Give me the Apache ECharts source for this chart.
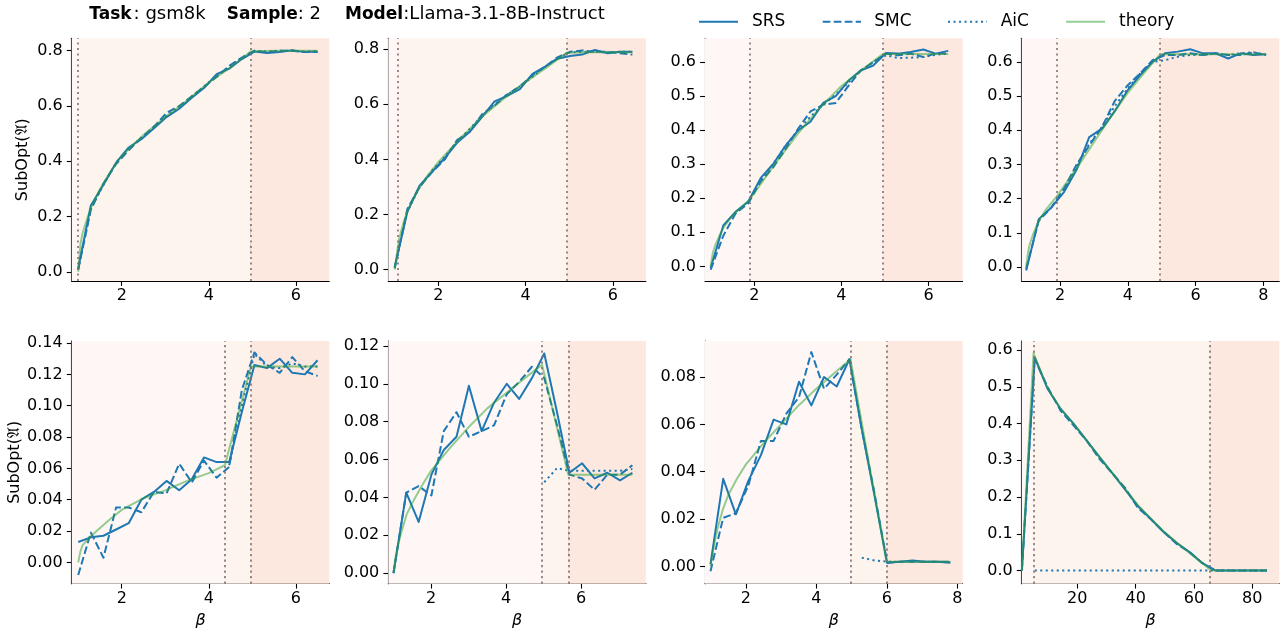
<!DOCTYPE html>
<html>
<head>
<meta charset="utf-8">
<script src="https://cdn.jsdelivr.net/npm/echarts@6/dist/echarts.min.js"></script>
<style>
  html, body { margin: 0; padding: 0; background: #ffffff; }
  #chart { width: 1283px; height: 637px; }
</style>
</head>
<body>
<div id="chart"></div>
<script>
// ---------------- data ----------------
// top row
const p1Beta = [1.00,1.29,1.58,1.87,2.16,2.45,2.74,3.03,3.32,3.61,3.89,4.18,4.47,4.76,5.05,5.34,5.63,5.92,6.21,6.50];
const p1SRS = [0.012,0.24,0.315,0.395,0.45,0.48,0.52,0.56,0.59,0.63,0.665,0.715,0.735,0.77,0.797,0.792,0.795,0.802,0.795,0.797];
const p1SMC = [0.008,0.225,0.32,0.39,0.44,0.485,0.525,0.575,0.60,0.635,0.67,0.705,0.745,0.775,0.80,0.795,0.80,0.80,0.795,0.795];
const p1AiC = [0.01,0.23,0.315,0.395,0.445,0.485,0.525,0.565,0.595,0.635,0.67,0.71,0.74,0.775,0.80,0.797,0.80,0.80,0.797,0.797];
const p1ThBeta = [1.0,1.05,1.1,1.2,1.3,1.5,1.75,2.0,2.5,3.0,3.5,4.0,4.5,4.96,5.5,6.0,6.5];
const p1Theory = [0.0,0.10,0.14,0.19,0.235,0.30,0.365,0.42,0.495,0.56,0.62,0.685,0.74,0.797,0.80,0.80,0.80];
const p1Bounds = [1.0, 4.96];
const p1Stats = ['FPR=1.000', 'TPR=1.000', 'Thr=0.000'];

const p2Beta = [1.00,1.29,1.57,1.86,2.15,2.43,2.72,3.01,3.29,3.58,3.87,4.16,4.44,4.73,5.02,5.30,5.59,5.88,6.16,6.45];
const p2SRS = [0.01,0.21,0.305,0.355,0.405,0.46,0.50,0.555,0.61,0.63,0.655,0.71,0.735,0.765,0.775,0.78,0.797,0.785,0.79,0.79];
const p2SMC = [0.005,0.22,0.30,0.355,0.40,0.47,0.50,0.565,0.595,0.635,0.665,0.705,0.735,0.77,0.79,0.795,0.79,0.79,0.785,0.78];
const p2AiC = [0.01,0.21,0.30,0.36,0.41,0.465,0.51,0.56,0.60,0.635,0.665,0.70,0.735,0.765,0.788,0.79,0.79,0.788,0.79,0.79];
const p2ThBeta = [1.0,1.06,1.1,1.2,1.3,1.5,1.75,2.0,2.5,3.0,3.5,4.0,4.5,4.95,5.5,6.0,6.45];
const p2Theory = [0.0,0.07,0.11,0.17,0.215,0.28,0.34,0.39,0.475,0.555,0.62,0.68,0.735,0.787,0.788,0.788,0.788];
const p2Bounds = [1.06, 4.95];
const p2Stats = ['FPR=0.936', 'TPR=0.995', 'Thr=0.657'];

const p3Beta = [1.00,1.29,1.57,1.86,2.15,2.43,2.72,3.01,3.29,3.58,3.87,4.16,4.44,4.73,5.02,5.30,5.59,5.88,6.16,6.45];
const p3SRS = [-0.005,0.12,0.16,0.19,0.26,0.30,0.355,0.40,0.425,0.48,0.50,0.545,0.575,0.59,0.627,0.625,0.63,0.637,0.625,0.633];
const p3SMC = [-0.01,0.09,0.155,0.185,0.25,0.29,0.345,0.405,0.455,0.475,0.48,0.53,0.575,0.60,0.625,0.62,0.625,0.615,0.625,0.625];
const p3AiC = [null,null,null,null,0.255,0.30,0.355,0.40,0.44,0.475,0.505,0.54,0.575,0.60,0.62,0.612,0.613,0.615,0.622,0.625];
const p3ThBeta = [1.0,1.05,1.1,1.2,1.3,1.5,1.885,2.0,2.5,3.0,3.5,4.0,4.5,4.95,5.5,6.0,6.45];
const p3Theory = [0.0,0.04,0.06,0.09,0.115,0.15,0.195,0.215,0.305,0.39,0.465,0.53,0.58,0.624,0.624,0.624,0.624];
const p3Bounds = [1.885, 4.95];
const p3Stats = ['FPR=0.418', 'TPR=0.995', 'Thr=0.659'];

const p4Beta = [1.00,1.37,1.75,2.12,2.49,2.86,3.24,3.61,3.98,4.35,4.73,5.10,5.47,5.84,6.22,6.59,6.96,7.33,7.71,8.08];
const p4SRS = [-0.01,0.14,0.175,0.22,0.285,0.38,0.405,0.455,0.515,0.56,0.60,0.625,0.63,0.637,0.625,0.625,0.61,0.625,0.62,0.622];
const p4SMC = [-0.005,0.135,0.175,0.23,0.30,0.355,0.41,0.485,0.53,0.565,0.605,0.62,0.62,0.625,0.62,0.625,0.62,0.62,0.628,0.62];
const p4AiC = [null,null,null,0.225,0.295,0.36,0.41,0.47,0.52,0.565,0.60,0.605,0.615,0.62,0.62,0.625,0.62,0.625,0.628,0.62];
const p4ThBeta = [1.0,1.05,1.1,1.2,1.37,1.6,1.89,2.5,3.0,3.5,4.0,4.5,4.95,5.5,6.5,7.5,8.08];
const p4Theory = [0.0,0.04,0.065,0.095,0.135,0.17,0.205,0.29,0.365,0.44,0.51,0.57,0.622,0.622,0.622,0.622,0.622];
const p4Bounds = [1.89, 4.95];
const p4Stats = ['FPR=0.415', 'TPR=0.995', 'Thr=0.680'];

// bottom row
const p5Beta = [1.00,1.29,1.58,1.87,2.16,2.45,2.74,3.03,3.32,3.61,3.89,4.18,4.47,4.76,5.05,5.34,5.63,5.92,6.21,6.50];
const p5SRS = [0.013,0.016,0.017,0.021,0.025,0.040,0.045,0.052,0.046,0.053,0.067,0.064,0.064,0.096,0.126,0.124,0.130,0.121,0.120,0.129];
const p5SMC = [-0.008,0.019,0.003,0.035,0.035,0.032,0.045,0.044,0.063,0.051,0.065,0.054,0.061,0.11,0.134,0.126,0.121,0.131,0.122,0.119];
const p5AiC = [null,null,null,null,null,null,null,null,null,null,null,null,0.062,0.10,0.133,0.125,0.124,0.127,0.125,0.125];
const p5ThBeta = [1.0,1.05,1.1,1.2,1.3,1.5,1.75,2.0,2.5,3.0,3.5,4.0,4.37,4.97,5.5,6.0,6.5];
const p5Theory = [0.0,0.007,0.011,0.014,0.017,0.022,0.028,0.0335,0.041,0.046,0.052,0.057,0.062,0.125,0.125,0.125,0.125];
const p5Bounds = [4.37, 4.97];
const p5Stats = ['FPR=0.036', 'TPR=0.995', 'Thr=0.685'];

const p6Beta = [1.00,1.34,1.67,2.01,2.34,2.68,3.01,3.35,3.68,4.02,4.35,4.69,5.02,5.36,5.69,6.03,6.36,6.70,7.04,7.37];
const p6SRS = [0.0,0.0425,0.027,0.052,0.065,0.072,0.099,0.075,0.09,0.10,0.092,0.103,0.116,0.085,0.053,0.058,0.050,0.053,0.049,0.053];
const p6SMC = [0.0,0.0425,0.046,0.041,0.075,0.085,0.072,0.075,0.078,0.0945,0.101,0.109,0.103,0.078,0.052,0.050,0.044,0.052,0.052,0.057];
const p6AiC = [null,null,null,null,null,null,null,null,null,null,null,null,0.048,0.0555,0.054,0.054,0.054,0.054,0.054,0.055];
const p6ThBeta = [1.0,1.05,1.1,1.2,1.35,1.5,1.75,2.0,2.5,3.0,3.5,4.0,4.5,4.96,5.66,6.5,7.37];
const p6Theory = [0.0,0.008,0.013,0.021,0.031,0.037,0.046,0.054,0.066,0.077,0.087,0.095,0.103,0.110,0.052,0.052,0.052];
const p6Bounds = [4.96, 5.66];
const p6Stats = ['FPR=0.012', 'TPR=0.830', 'Thr=0.769'];

const p7Beta = [1.00,1.36,1.72,2.07,2.43,2.79,3.15,3.51,3.86,4.22,4.58,4.94,5.29,5.65,6.01,6.37,6.73,7.08,7.44,7.80];
const p7SRS = [0.001,0.037,0.022,0.036,0.047,0.062,0.060,0.078,0.068,0.080,0.076,0.0875,0.058,0.030,0.0015,0.002,0.0025,0.002,0.002,0.0015];
const p7SMC = [-0.002,0.0205,0.0225,0.034,0.053,0.053,0.0645,0.0715,0.0905,0.075,0.081,0.0875,0.058,0.031,0.0015,0.002,0.002,0.002,0.002,0.002];
const p7AiC = [null,null,null,null,null,null,null,null,null,null,null,null,0.0037,0.0025,0.002,0.002,0.002,0.002,0.002,0.0018];
const p7ThBeta = [1.0,1.05,1.1,1.2,1.35,1.5,1.75,2.0,2.5,3.0,3.5,4.0,4.5,4.97,5.99,7.0,7.8];
const p7Theory = [0.0,0.005,0.009,0.016,0.024,0.030,0.037,0.043,0.052,0.060,0.068,0.075,0.0815,0.0875,0.002,0.002,0.002];
const p7Bounds = [4.97, 5.99];
const p7Stats = ['FPR=0.000', 'TPR=0.830', 'Thr=0.770'];

const p8Beta = [1.0,5.4,9.8,14.3,18.7,23.1,27.5,32.0,36.4,40.8,45.2,49.6,54.1,58.5,62.9,67.3,71.7,76.2,80.6,85.0];
const p8SRS = [0.0,0.58,0.495,0.44,0.40,0.355,0.31,0.265,0.22,0.175,0.14,0.105,0.075,0.05,0.02,0.0,0.0,0.0,0.0,0.0];
const p8SMC = [0.0,0.575,0.50,0.435,0.395,0.355,0.305,0.265,0.225,0.17,0.14,0.105,0.072,0.05,0.02,0.0,0.0,0.0,0.0,0.0];
const p8AiC = [null,0,0,0,0,0,0,0,0,0,0,0,0,0,0,0,0,0,0,0];
const p8ThBeta = [1.0,5.0,9.8,14.3,18.7,23.1,27.5,32.0,36.4,40.8,45.2,49.6,54.1,58.5,62.9,65.5,67.3,75.0,85.0];
const p8Theory = [0.0,0.592,0.497,0.44,0.40,0.355,0.31,0.265,0.222,0.178,0.142,0.107,0.076,0.048,0.02,0.003,0.0,0.0,0.0];
const p8Bounds = [4.9, 65.5];
const p8Stats = ['FPR=0.000', 'TPR=0.076', 'Thr=0.808'];

// tick labels
const xTicksSmall = [2, 4, 6];
const xTicksWide = [2, 4, 6, 8];
const xTicksLarge = [20, 40, 60, 80];
const yTicksTenths2 = [0, 0.2, 0.4, 0.6, 0.8];
const yTicksTenths1 = [0, 0.1, 0.2, 0.3, 0.4, 0.5, 0.6];
const yTicksP5 = [0, 0.02, 0.04, 0.06, 0.08, 0.10, 0.12, 0.14];
const yTicksP6 = [0, 0.02, 0.04, 0.06, 0.08, 0.10, 0.12];
const yTicksP7 = [0, 0.02, 0.04, 0.06, 0.08];

const legendNames = ['SRS', 'SMC', 'AiC', 'theory'];

// ---------------- panel setup ----------------
const panels = [
  { beta: p1Beta, srs: p1SRS, smc: p1SMC, aic: p1AiC, thBeta: p1ThBeta, th: p1Theory, bounds: p1Bounds, stats: p1Stats,
    xr: [0.85, 6.77], xt: xTicksSmall, yr: [-0.033, 0.845], yt: yTicksTenths2, dec: 1 },
  { beta: p2Beta, srs: p2SRS, smc: p2SMC, aic: p2AiC, thBeta: p2ThBeta, th: p2Theory, bounds: p2Bounds, stats: p2Stats,
    xr: [0.853, 6.76], xt: xTicksSmall, yr: [-0.041, 0.839], yt: yTicksTenths2, dec: 1 },
  { beta: p3Beta, srs: p3SRS, smc: p3SMC, aic: p3AiC, thBeta: p3ThBeta, th: p3Theory, bounds: p3Bounds, stats: p3Stats,
    xr: [0.87, 6.78], xt: xTicksSmall, yr: [-0.043, 0.67], yt: yTicksTenths1, dec: 1 },
  { beta: p4Beta, srs: p4SRS, smc: p4SMC, aic: p4AiC, thBeta: p4ThBeta, th: p4Theory, bounds: p4Bounds, stats: p4Stats,
    xr: [0.867, 8.47], xt: xTicksWide, yr: [-0.041, 0.669], yt: yTicksTenths1, dec: 1 },
  { beta: p5Beta, srs: p5SRS, smc: p5SMC, aic: p5AiC, thBeta: p5ThBeta, th: p5Theory, bounds: p5Bounds, stats: p5Stats,
    xr: [0.85, 6.77], xt: xTicksSmall, yr: [-0.0136, 0.1413], yt: yTicksP5, dec: 2 },
  { beta: p6Beta, srs: p6SRS, smc: p6SMC, aic: p6AiC, thBeta: p6ThBeta, th: p6Theory, bounds: p6Bounds, stats: p6Stats,
    xr: [0.861, 7.73], xt: xTicksSmall, yr: [-0.0056, 0.1226], yt: yTicksP6, dec: 2 },
  { beta: p7Beta, srs: p7SRS, smc: p7SMC, aic: p7AiC, thBeta: p7ThBeta, th: p7Theory, bounds: p7Bounds, stats: p7Stats,
    xr: [0.844, 8.15], xt: xTicksWide, yr: [-0.0073, 0.0952], yt: yTicksP7, dec: 2 },
  { beta: p8Beta, srs: p8SRS, smc: p8SMC, aic: p8AiC, thBeta: p8ThBeta, th: p8Theory, bounds: p8Bounds, stats: p8Stats,
    xr: [0.94, 89.26], xt: xTicksLarge, yr: [-0.036, 0.625], yt: yTicksTenths1, dec: 1 }
];

// ---------------- styling ----------------
const FONT = 'DejaVu Sans';
const INK = '#000000';
const BLUE = '#1f77b4';
const GREEN = '#2ca02c';
const SHADE = ['#fef7f6', '#fef4ee', '#fde8df'];
const BOUND_COLOR = 'rgba(128,110,110,0.8)';
const DASH = [7.7, 3.3];
const DOT = [2.1, 3.4];
const TICK_FONT = 16;

const COL_LEFT = [71.7, 388.3, 705, 1021.7];
const ROW_TOP = [38.3, 341];
const GW = 257.6;
const GH = 242.7;

const zip = (xs, ys) => xs.map((x, i) => [x, ys[i]]);

const grids = [], xAxes = [], yAxes = [], series = [], graphics = [];

panels.forEach((p, i) => {
  const col = i % 4, row = Math.floor(i / 4);
  const left = COL_LEFT[col], top = ROW_TOP[row];
  grids.push({ left: left, top: top, width: GW, height: GH, containLabel: false, outerBoundsMode: 'none' });

  xAxes.push({
    type: 'value', gridIndex: i, min: p.xr[0], max: p.xr[1],
    name: row === 1 ? 'β' : '', nameLocation: 'middle', nameGap: 29,
    nameTextStyle: { fontFamily: FONT, fontSize: 16, fontStyle: 'italic', color: INK },
    axisLine: { show: true, onZero: false, lineStyle: { color: INK, width: 1.1 } },
    axisTick: { show: true, length: 4.9, customValues: p.xt, lineStyle: { color: INK, width: 1.1 } },
    axisLabel: { customValues: p.xt, margin: 7, fontFamily: FONT, fontSize: TICK_FONT, color: INK,
                 formatter: v => String(v) },
    splitLine: { show: false }
  });

  yAxes.push({
    type: 'value', gridIndex: i, min: p.yr[0], max: p.yr[1],
    name: col === 0 ? 'SubOpt(𝔄)' : '', nameLocation: 'middle', nameGap: 41, nameRotate: 90,
    nameTextStyle: { fontFamily: FONT, fontSize: 16, color: INK },
    axisLine: { show: true, onZero: false, lineStyle: { color: INK, width: 1.1 } },
    axisTick: { show: true, length: 4.9, customValues: p.yt, lineStyle: { color: INK, width: 1.1 } },
    axisLabel: { customValues: p.yt, margin: 9, fontFamily: FONT, fontSize: TICK_FONT, color: INK,
                 formatter: v => v.toFixed(p.dec) },
    splitLine: { show: false }
  });

  // shaded regimes and their boundaries
  series.push({
    type: 'line', xAxisIndex: i, yAxisIndex: i, data: [], z: 1, silent: true,
    markArea: {
      silent: true,
      data: [
        [{ xAxis: p.xr[0], itemStyle: { color: SHADE[0] } }, { xAxis: p.bounds[0] }],
        [{ xAxis: p.bounds[0], itemStyle: { color: SHADE[1] } }, { xAxis: p.bounds[1] }],
        [{ xAxis: p.bounds[1], itemStyle: { color: SHADE[2] } }, { xAxis: p.xr[1] }]
      ]
    },
    markLine: {
      silent: true, symbol: 'none', animation: false,
      label: { show: false },
      lineStyle: { color: BOUND_COLOR, width: 2, type: DOT },
      data: [{ xAxis: p.bounds[0] }, { xAxis: p.bounds[1] }]
    }
  });

  const common = { type: 'line', xAxisIndex: i, yAxisIndex: i, symbol: 'none', silent: true, connectNulls: false };
  series.push(Object.assign({}, common, { name: 'SRS', z: 3, data: zip(p.beta, p.srs),
    lineStyle: { color: BLUE, width: 2, join: 'round' } }));
  series.push(Object.assign({}, common, { name: 'SMC', z: 3, data: zip(p.beta, p.smc),
    lineStyle: { color: BLUE, width: 2, type: DASH, join: 'round' } }));
  series.push(Object.assign({}, common, { name: 'AiC', z: 3, data: zip(p.beta, p.aic),
    lineStyle: { color: BLUE, width: 2, type: DOT, join: 'round' } }));
  series.push(Object.assign({}, common, { name: 'theory', z: 4, data: zip(p.thBeta, p.th),
    lineStyle: { color: GREEN, width: 2, opacity: 0.5, join: 'round' } }));

  // statistics box in the lower-right corner of each panel
  const right = left + GW, bottom = top + GH;
  const bw = 94, bh = 56.5;
  const bx = right - 8.7 - bw, by = bottom - 20.7 - bh;
  graphics.push({
    type: 'group', z: 100, silent: true,
    children: [
      { type: 'rect', shape: { x: bx, y: by, width: bw, height: bh, r: 4 },
        style: { fill: 'rgba(212,216,226,0.62)' } },
      { type: 'text', x: right - 14.3, y: by + bh / 2,
        style: { text: p.stats.join('\n'), fontFamily: FONT, fontSize: 15, lineHeight: 17,
                 fill: '#111', align: 'right', verticalAlign: 'middle' } }
    ]
  });
});

// figure title: bold keys followed by regular values
const titleY = 14.5;
[
  { x: 89.3, text: 'Task', bold: true },
  { x: 133.6, text: ': gsm8k', bold: false },
  { x: 226.7, text: 'Sample', bold: true },
  { x: 297.8, text: ': 2', bold: false },
  { x: 345, text: 'Model', bold: true },
  { x: 403.3, text: ':Llama-3.1-8B-Instruct', bold: false }
].forEach(t => graphics.push({
  type: 'text', x: t.x, y: titleY, z: 100, silent: true,
  style: { text: t.text, fontFamily: FONT, fontSize: t.bold ? 17 : 18, fontWeight: t.bold ? 'bold' : 'normal',
           fill: INK, verticalAlign: 'middle' }
}));

// legend
const legendY = 21.7;
const legendItems = [
  { x1: 699, x2: 738, tx: 752, dash: null, color: BLUE, opacity: 1 },
  { x1: 822.7, x2: 861, tx: 874.3, dash: DASH, color: BLUE, opacity: 1 },
  { x1: 948, x2: 987, tx: 1000.7, dash: DOT, color: BLUE, opacity: 1 },
  { x1: 1066, x2: 1105, tx: 1119, dash: null, color: GREEN, opacity: 0.5 }
];
legendItems.forEach((it, k) => {
  graphics.push({
    type: 'line', z: 100, silent: true,
    shape: { x1: it.x1, y1: legendY, x2: it.x2, y2: legendY },
    style: { stroke: it.color, lineWidth: 2, lineDash: it.dash, opacity: it.opacity }
  });
  graphics.push({
    type: 'text', z: 100, silent: true, x: it.tx, y: legendY,
    style: { text: legendNames[k], fontFamily: FONT, fontSize: 17, fill: INK, verticalAlign: 'middle' }
  });
});

const chart = echarts.init(document.getElementById('chart'), null, { renderer: 'canvas' });
chart.setOption({
  backgroundColor: '#ffffff',
  animation: false,
  grid: grids,
  xAxis: xAxes,
  yAxis: yAxes,
  series: series,
  graphic: graphics
});
</script>
</body>
</html>
